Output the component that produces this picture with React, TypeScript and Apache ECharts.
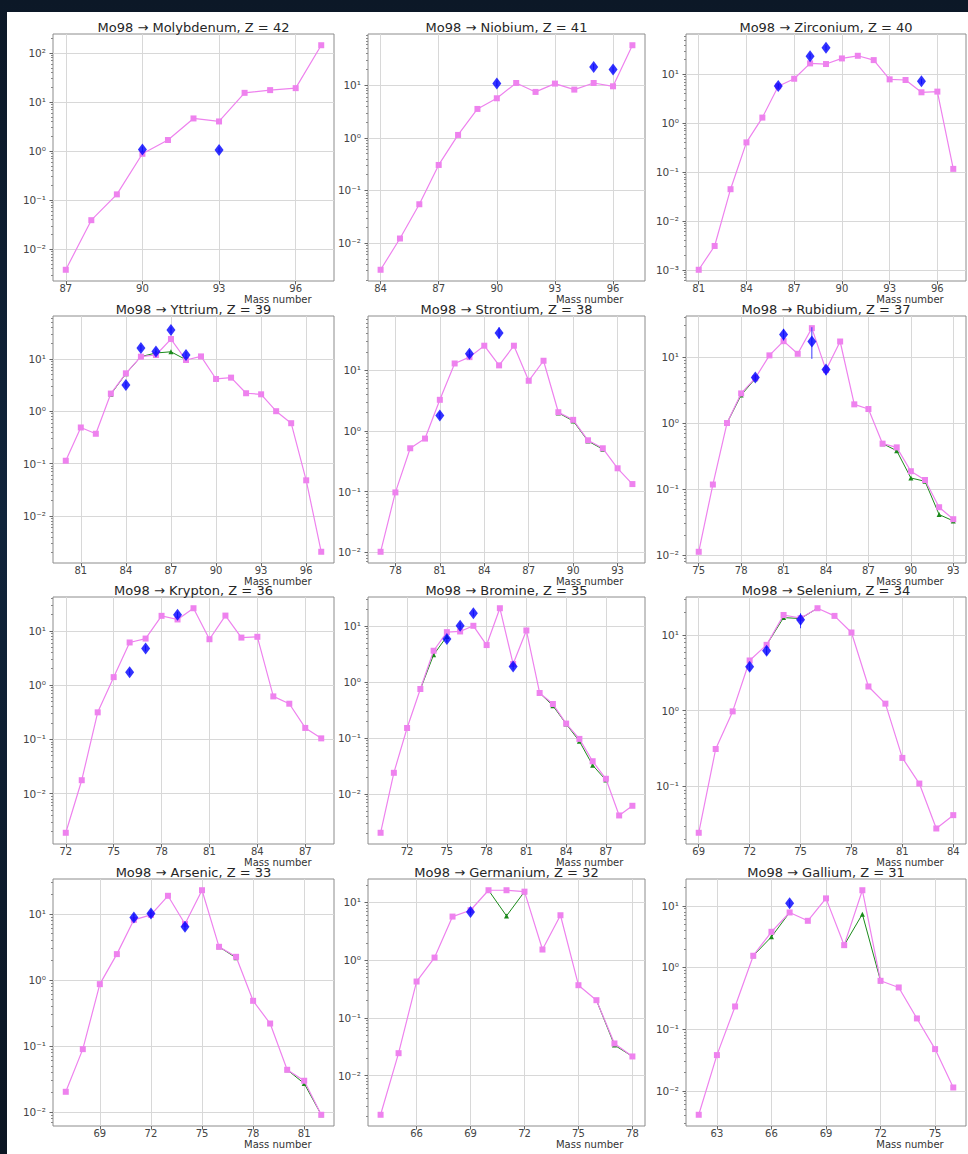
import React, { useEffect, useRef } from "react";
import * as echarts from "echarts";

// ---------------- DATA ----------------
const TITLES = [
  "Mo98 → Molybdenum, Z = 42",
  "Mo98 → Niobium, Z = 41",
  "Mo98 → Zirconium, Z = 40",
  "Mo98 → Yttrium, Z = 39",
  "Mo98 → Strontium, Z = 38",
  "Mo98 → Rubidium, Z = 37",
  "Mo98 → Krypton, Z = 36",
  "Mo98 → Bromine, Z = 35",
  "Mo98 → Selenium, Z = 34",
  "Mo98 → Arsenic, Z = 33",
  "Mo98 → Germanium, Z = 32",
  "Mo98 → Gallium, Z = 31",
];
const X_LABEL = "Mass number";

// model (violet squares): [mass, value]
const moModel = [[87, 0.0038], [88, 0.039], [89, 0.131], [90, 0.88], [91, 1.68], [92, 4.63], [93, 4.02], [94, 15.4], [95, 17.5], [96, 19.2], [97, 144]];
const nbModel = [[84, 0.0031], [85, 0.0122], [86, 0.0547], [87, 0.306], [88, 1.14], [89, 3.56], [90, 5.68], [91, 11.1], [92, 7.5], [93, 10.8], [94, 8.3], [95, 11.1], [96, 9.6], [97, 58]];
const zrModel = [[81, 0.001], [82, 0.00307], [83, 0.0445], [84, 0.404], [85, 1.3], [86, 5.67], [87, 8.1], [88, 16.7], [89, 16.2], [90, 21.1], [91, 23.9], [92, 19.5], [93, 7.87], [94, 7.64], [95, 4.28], [96, 4.42], [97, 0.116]];
const yModel = [[80, 0.1135], [81, 0.489], [82, 0.371], [83, 2.17], [84, 5.28], [85, 10.96], [86, 11.8], [87, 23.8], [88, 9.48], [89, 11.1], [90, 4.12], [91, 4.37], [92, 2.2], [93, 2.1], [94, 1.0], [95, 0.59], [96, 0.048], [97, 0.00208]];
const srModel = [[77, 0.0102], [78, 0.097], [79, 0.517], [80, 0.747], [81, 3.25], [82, 12.9], [83, 16.4], [84, 25.3], [85, 12.0], [86, 25.3], [87, 6.69], [88, 14.3], [89, 2.03], [90, 1.52], [91, 0.7], [92, 0.517], [93, 0.242], [94, 0.133]];
const rbModel = [[75, 0.0112], [76, 0.117], [77, 1.0], [78, 2.81], [79, 4.8], [80, 10.6], [81, 17.4], [82, 11.2], [83, 27.4], [84, 6.34], [85, 17.2], [86, 1.92], [87, 1.63], [88, 0.487], [89, 0.428], [90, 0.186], [91, 0.137], [92, 0.053], [93, 0.0349]];
const krModel = [[72, 0.00189], [73, 0.0176], [74, 0.314], [75, 1.4], [76, 6.1], [77, 7.2], [78, 18.9], [79, 16.2], [80, 26.1], [81, 7.0], [82, 19.1], [83, 7.5], [84, 7.76], [85, 0.618], [86, 0.453], [87, 0.162], [88, 0.104]];
const brModel = [[70, 0.00203], [71, 0.0239], [72, 0.151], [73, 0.75], [74, 3.62], [75, 7.78], [76, 8.0], [77, 10.1], [78, 4.57], [79, 20.8], [80, 2.1], [81, 8.34], [82, 0.637], [83, 0.405], [84, 0.181], [85, 0.0964], [86, 0.0385], [87, 0.0187], [88, 0.00414], [89, 0.00616]];
const seModel = [[69, 0.0244], [70, 0.312], [71, 0.98], [72, 4.61], [73, 7.42], [74, 18.4], [75, 16.7], [76, 22.6], [77, 17.9], [78, 10.8], [79, 2.09], [80, 1.24], [81, 0.238], [82, 0.109], [83, 0.0278], [84, 0.0417]];
const asModel = [[67, 0.0202], [68, 0.0893], [69, 0.86], [70, 2.45], [71, 8.09], [72, 9.62], [73, 18.7], [74, 7.0], [75, 22.7], [76, 3.16], [77, 2.23], [78, 0.481], [79, 0.218], [80, 0.0435], [81, 0.0297], [82, 0.00907]];
const geModel = [[64, 0.0021], [65, 0.0245], [66, 0.427], [67, 1.11], [68, 5.7], [69, 7.34], [70, 16.3], [71, 16.3], [72, 15.4], [73, 1.53], [74, 6.01], [75, 0.369], [76, 0.203], [77, 0.0361], [78, 0.0215]];
const gaModel = [[62, 0.00408], [63, 0.0379], [64, 0.233], [65, 1.55], [66, 3.79], [67, 7.8], [68, 5.71], [69, 13.2], [70, 2.3], [71, 17.9], [72, 0.608], [73, 0.474], [74, 0.149], [75, 0.0474], [76, 0.0113]];

// second model (green triangles), drawn as separate segments: [mass, value]
const moGreen: number[][][] = [];
const nbGreen: number[][][] = [];
const zrGreen: number[][][] = [];
const yGreen = [[[83, 2.1], [84, 5.2], [85, 11.0], [86, 12.9], [87, 13.6], [88, 9.6]]];
const srGreen = [[[89, 1.98], [90, 1.46], [91, 0.68], [92, 0.5]]];
const rbGreen = [[[77, 1.0], [78, 2.65], [79, 4.7]], [[88, 0.487], [89, 0.381], [90, 0.147], [91, 0.131], [92, 0.041], [93, 0.0329]]];
const krGreen: number[][][] = [];
const brGreen = [[[73, 0.74], [74, 3.07], [75, 6.5]], [[82, 0.637], [83, 0.378], [84, 0.178], [85, 0.0875], [86, 0.0327], [87, 0.0177]]];
const seGreen = [[[73, 7.4], [74, 17.0], [75, 16.5], [76, 22.6]]];
const asGreen = [[[76, 3.16], [77, 2.15]], [[80, 0.0435], [81, 0.027], [82, 0.0091]]];
const geGreen = [[[70, 16.3], [71, 5.85], [72, 15.4]], [[76, 0.203], [77, 0.0338], [78, 0.0215]]];
const gaGreen = [[[65, 1.55], [66, 3.14], [67, 7.8]], [[70, 2.3], [71, 7.33], [72, 0.608]]];

// measurements (blue diamonds): [mass, value, low, high]
const moExp = [[90, 1.08, 0.95, 1.23], [93, 1.05, 0.93, 1.19]];
const nbExp = [[90, 10.8, 9.6, 12.2], [95, 22.4, 19.8, 25.3], [96, 20.0, 17.6, 22.6]];
const zrExp = [[86, 5.76, 5.1, 6.5], [88, 23.5, 20.8, 26.5], [89, 34.8, 30.8, 39.3], [95, 7.17, 6.3, 8.1]];
const yExp = [[84, 3.17, 2.8, 3.6], [85, 16.0, 14.0, 18.3], [86, 13.8, 12.2, 15.6], [87, 35.3, 31.0, 40.0], [88, 11.8, 10.4, 13.4]];
const srExp = [[81, 1.79, 1.58, 2.03], [83, 18.7, 16.4, 21.3], [85, 41.0, 33.0, 51.0]];
const rbExp = [[79, 4.91, 4.4, 5.5], [81, 21.9, 17.8, 26.7], [83, 17.2, 9.4, 28.3], [84, 6.48, 5.3, 7.45]];
const krExp = [[76, 1.73, 1.53, 1.96], [77, 4.73, 4.2, 5.35], [79, 19.7, 17.4, 22.3]];
const brExp = [[75, 5.84, 5.15, 6.6], [76, 10.1, 8.9, 11.4], [77, 17.0, 15.0, 19.2], [80, 1.9, 1.68, 2.15]];
const seExp = [[72, 3.8, 3.36, 4.3], [73, 6.18, 5.45, 7.0], [75, 15.9, 12.3, 19.4]];
const asExp = [[71, 8.77, 7.75, 9.9], [72, 10.1, 8.9, 11.4], [74, 6.34, 5.6, 7.2]];
const geExp = [[69, 6.87, 6.07, 7.8]];
const gaExp = [[67, 11.0, 9.7, 12.4]];

// ---------------- LAYOUT ----------------
const PAGE_W = 968;
const PAGE_H = 1154;
const FIG_X = 7;
const FIG_Y = 12;
const COL_LEFT = [46, 361, 679];
const COL_W = [281, 277, 280];
const ROW_TOP = [22, 304, 585, 867];
const PANEL_H = 247;

const PINK = "#ee82ee";
const GREEN = "#1b8a1b";
const BLUE = "#0000ff";
const FONT = "DejaVu Sans, sans-serif";

const PANELS = [
  { model: moModel, green: moGreen, exp: moExp },
  { model: nbModel, green: nbGreen, exp: nbExp },
  { model: zrModel, green: zrGreen, exp: zrExp },
  { model: yModel, green: yGreen, exp: yExp },
  { model: srModel, green: srGreen, exp: srExp },
  { model: rbModel, green: rbGreen, exp: rbExp },
  { model: krModel, green: krGreen, exp: krExp },
  { model: brModel, green: brGreen, exp: brExp },
  { model: seModel, green: seGreen, exp: seExp },
  { model: asModel, green: asGreen, exp: asExp },
  { model: geModel, green: geGreen, exp: geExp },
  { model: gaModel, green: gaGreen, exp: gaExp },
];

const SUP: Record<string, string> = {
  "-": "⁻", "0": "⁰", "1": "¹", "2": "²", "3": "³", "4": "⁴",
  "5": "⁵", "6": "⁶", "7": "⁷", "8": "⁸", "9": "⁹",
};
function decLabel(v: number) {
  const e = Math.log10(v);
  const r = Math.round(e);
  if (Math.abs(e - r) > 1e-6) return "";
  return "10" + String(r).split("").map((c) => SUP[c] || c).join("");
}

function buildOption() {
  const grid: any[] = [];
  const xAxis: any[] = [];
  const yAxis: any[] = [];
  const series: any[] = [];
  const graphic: any[] = [];

  PANELS.forEach((p, i) => {
    const row = Math.floor(i / 3);
    const col = i % 3;
    const left = COL_LEFT[col];
    const top = ROW_TOP[row];
    const w = COL_W[col];
    const h = PANEL_H;

    const xs: number[] = [];
    const ls: number[] = [];
    p.model.forEach((d) => { xs.push(d[0]); ls.push(Math.log10(d[1])); });
    p.green.forEach((seg) => seg.forEach((d) => { xs.push(d[0]); ls.push(Math.log10(d[1])); }));
    p.exp.forEach((d) => { xs.push(d[0]); ls.push(Math.log10(d[2]), Math.log10(d[3])); });
    const xmin0 = Math.min(...xs), xmax0 = Math.max(...xs);
    const xm = 0.05 * (xmax0 - xmin0);
    const xmin = xmin0 - xm, xmax = xmax0 + xm;
    const lmin0 = Math.min(...ls), lmax0 = Math.max(...ls);
    const lm = 0.05 * (lmax0 - lmin0);
    const lmin = lmin0 - lm, lmax = lmax0 + lm;
    const ymin = Math.pow(10, lmin), ymax = Math.pow(10, lmax);

    const xTicks: number[] = [];
    for (let v = Math.ceil(xmin / 3) * 3; v <= xmax; v += 3) xTicks.push(v);
    const yTicks: number[] = [];
    const yMinor: number[] = [];
    for (let d = Math.floor(lmin); d <= Math.ceil(lmax); d++) {
      const base = Number("1e" + d);
      if (d >= lmin && d <= lmax) yTicks.push(base);
      for (let k = 2; k <= 9; k++) {
        const v = k * base;
        const lv = Math.log10(v);
        if (lv > lmin && lv < lmax) yMinor.push(v);
      }
    }

    grid.push({
      left, top, width: w, height: h,
      show: true, borderColor: "#8c8c8c", borderWidth: 1, backgroundColor: "#fff",
      containLabel: false,
    });
    xAxis.push({
      type: "value", gridIndex: i, min: xmin, max: xmax,
      axisLine: { show: false },
      axisTick: { show: true, customValues: xTicks, length: 3.5, lineStyle: { color: "#666" } },
      axisLabel: { customValues: xTicks, fontSize: 10, color: "#444", margin: 2, fontFamily: FONT },
      splitLine: { show: true, lineStyle: { color: "#d8d8d8", width: 1 } },
    });
    yAxis.push({
      type: "log", logBase: 10, gridIndex: i, min: ymin, max: ymax, position: "left",
      axisLine: { show: false },
      axisTick: { show: true, customValues: yTicks, length: 3.5, lineStyle: { color: "#666" } },
      axisLabel: {
        customValues: yTicks, fontSize: 10.5, color: "#444", margin: 7, fontFamily: FONT,
        formatter: (v: number) => decLabel(v),
      },
      splitLine: { show: true, lineStyle: { color: "#d8d8d8", width: 1 } },
    });
    yAxis.push({
      type: "log", logBase: 10, gridIndex: i, min: ymin, max: ymax, position: "left",
      axisLine: { show: false },
      axisTick: { show: true, customValues: yMinor, length: 2, lineStyle: { color: "#888" } },
      axisLabel: { show: false },
      splitLine: { show: false },
    });

    const yIdx = i * 2;
    p.green.forEach((seg) => {
      series.push({
        type: "line", xAxisIndex: i, yAxisIndex: yIdx, data: seg,
        symbol: "triangle", symbolSize: 5, z: 2,
        lineStyle: { color: GREEN, width: 1 }, itemStyle: { color: GREEN },
      });
    });
    series.push({
      type: "line", xAxisIndex: i, yAxisIndex: yIdx, data: p.model,
      symbol: "rect", symbolSize: 6, z: 3,
      lineStyle: { color: PINK, width: 1.2 }, itemStyle: { color: PINK },
    });
    series.push({
      type: "custom", xAxisIndex: i, yAxisIndex: yIdx, data: p.exp, z: 4,
      encode: { x: 0, y: 1 },
      renderItem: (params: any, api: any) => {
        const x = api.value(0);
        const a = api.coord([x, api.value(2)]);
        const b = api.coord([x, api.value(3)]);
        return {
          type: "line",
          shape: { x1: a[0], y1: a[1], x2: b[0], y2: b[1] },
          style: { stroke: "#3a3aff", lineWidth: 1 },
        };
      },
    });
    series.push({
      type: "scatter", xAxisIndex: i, yAxisIndex: yIdx,
      data: p.exp.map((d) => [d[0], d[1]]),
      symbol: "diamond", symbolSize: [9, 12], z: 5,
      itemStyle: { color: BLUE },
    });

    graphic.push({
      type: "text", x: left + w / 2, y: top,
      style: {
        text: TITLES[i], align: "center", verticalAlign: "bottom",
        font: `13px ${FONT}`, fill: "#262626",
      },
    });
    graphic.push({
      type: "text", x: left + 0.8 * w, y: top + h + 13.5,
      style: {
        text: X_LABEL, align: "center", verticalAlign: "top",
        font: `10px ${FONT}`, fill: "#333",
      },
    });
  });

  return { animation: false, grid, xAxis, yAxis, series, graphic };
}

export default function App() {
  const ref = useRef<HTMLDivElement>(null);
  useEffect(() => {
    if (!ref.current) return;
    const chart = echarts.init(ref.current, undefined, { renderer: "svg" });
    chart.setOption(buildOption() as any);
    return () => chart.dispose();
  }, []);
  return (
    <div
      style={{
        position: "fixed", left: 0, top: 0, width: PAGE_W, height: PAGE_H,
        background: "linear-gradient(180deg, #0c1827 0%, #10243b 45%, #0b1522 100%)",
        overflow: "hidden",
      }}
    >
      <div
        ref={ref}
        style={{
          position: "absolute", left: FIG_X, top: FIG_Y,
          width: PAGE_W - FIG_X, height: PAGE_H - FIG_Y, background: "#fff",
        }}
      />
    </div>
  );
}
